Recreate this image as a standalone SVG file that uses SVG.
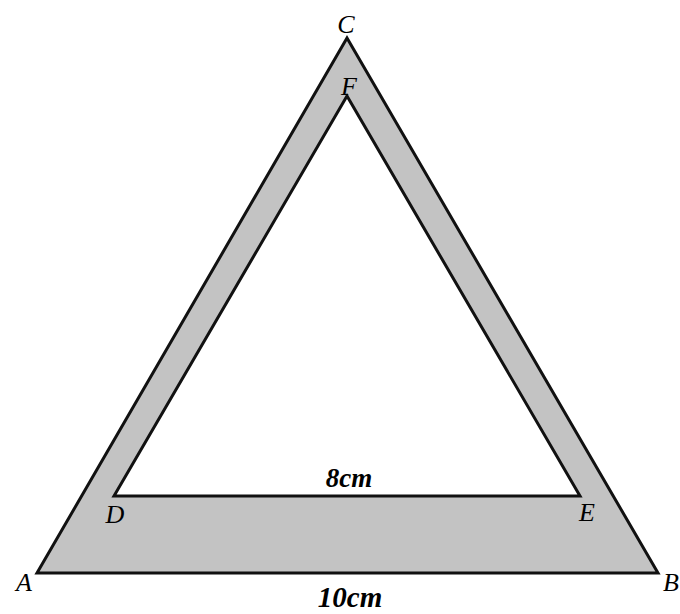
<svg xmlns="http://www.w3.org/2000/svg" width="680" height="614" viewBox="0 0 680 614">
<style>
.lbl{font-family:"Liberation Serif","Times New Roman",serif;font-style:italic;font-size:26px;fill:#000;text-anchor:middle}
.len{font-family:"Liberation Serif","Times New Roman",serif;font-style:italic;font-weight:bold;fill:#000;text-anchor:middle}
</style>
<rect width="680" height="614" fill="#fff"/>
<g id="frame">
<path d="M37,573 L658,573 L347,38 Z M114,496 L580,496 L347,96 Z" fill="#c3c3c3" fill-rule="evenodd" stroke="#111" stroke-width="3" stroke-linejoin="miter"/>
</g>
<g id="labels">
<text class="lbl" x="346" y="33">C</text>
<text class="lbl" x="349" y="95">F</text>
<text class="lbl" x="115" y="523">D</text>
<text class="lbl" x="587" y="521">E</text>
<text class="lbl" x="24" y="591">A</text>
<text class="lbl" x="671" y="591">B</text>
<text class="len" x="349" y="487" font-size="27">8cm</text>
<text class="len" x="350" y="607" font-size="29">10cm</text>
</g>
</svg>
